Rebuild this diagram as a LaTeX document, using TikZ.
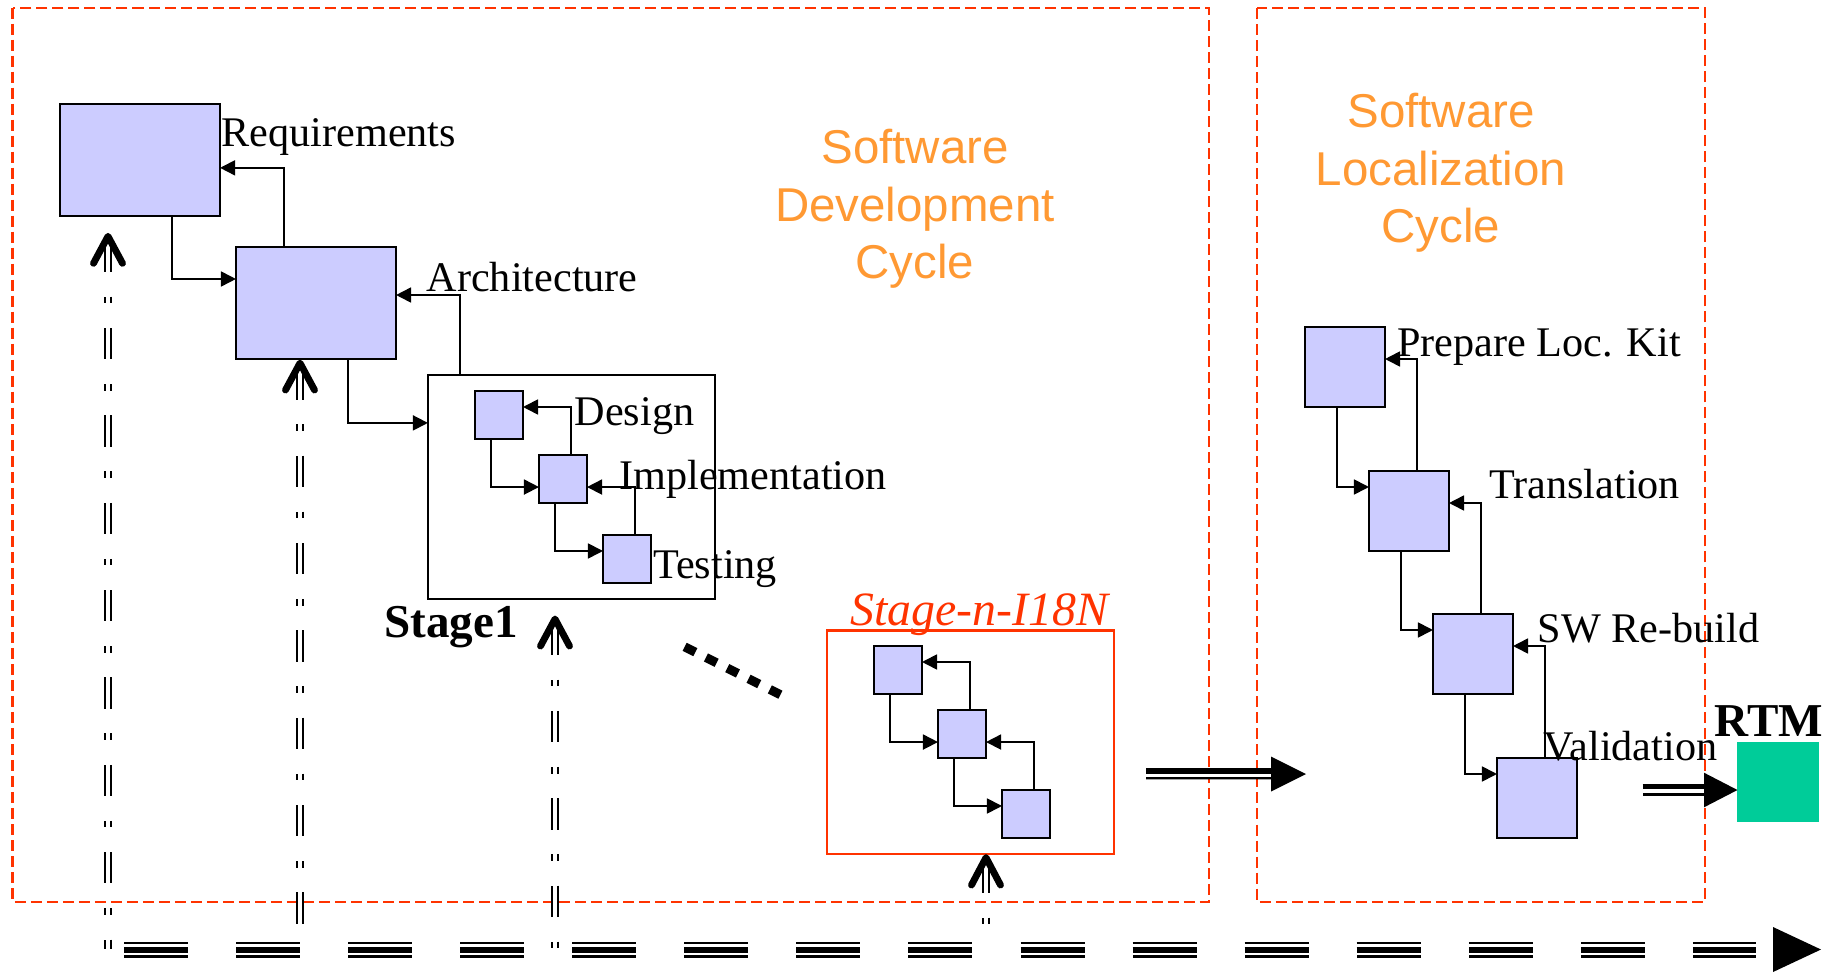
\documentclass[tikz,border=0pt]{standalone}
\usepackage{fontspec}
\setmainfont{Liberation Serif}
\newfontfamily\arialf{Liberation Sans}
\usetikzlibrary{calc,arrows.meta}
\definecolor{boxfill}{HTML}{CCCCFF}
\definecolor{dashred}{HTML}{FF3300}
\definecolor{orangetxt}{HTML}{FF9933}
\definecolor{rtmgreen}{HTML}{00CC99}
\begin{document}
\begin{tikzpicture}[x=0.01cm,y=-0.01cm,
  bigbox/.style={draw=black, fill=boxfill, line width=0.6pt, inner sep=0pt, outer sep=0pt, minimum width=1.6cm, minimum height=1.12cm},
  smallbox/.style={draw=black, fill=boxfill, line width=0.55pt, inner sep=0pt, outer sep=0pt, minimum width=0.48cm, minimum height=0.48cm},
  locbox/.style={draw=black, fill=boxfill, line width=0.6pt, inner sep=0pt, outer sep=0pt, minimum width=0.8cm, minimum height=0.8cm},
  conn/.style={draw=black, line width=0.5pt, -{Triangle[length=0.15cm,width=0.15cm]}},
  lbl/.style={anchor=base west, inner sep=0pt, font=\fontsize{12}{14}\selectfont},
  boldlbl/.style={anchor=base west, inner sep=0pt, font=\bfseries\fontsize{13.4}{16}\selectfont},
  cyclbl/.style={anchor=base, inner sep=0pt, text=orangetxt, font=\arialf\fontsize{13.5}{16}\selectfont},
  phasebox/.style={draw=dashred, line width=0.57pt, dash pattern=on 0.11cm off 0.05cm},
  ddash/.style={draw=black, double=white, line width=0.75pt, double distance=0.9pt, dash pattern=on 0.313cm off 0.247cm on 0.066cm off 0.247cm},
  chev/.style={draw=black, line width=1.95pt, line cap=round, line join=round},
  tline/.style={dash pattern=on 0.64cm off 0.48cm}
]
\useasboundingbox (0,0) rectangle (1839,972);

% phase frames
\draw[phasebox] (12.5,7.5) rectangle (1209,901.7);
\draw[phasebox] (1257,8) rectangle (1705,901.7);

% cycle titles
\node[cyclbl] (sdc1) at (915,163) {Software};
\node[cyclbl] (sdc2) at (915,221) {Development};
\node[cyclbl] (sdc3) at (915,278) {Cycle};
\node[cyclbl] (slc1) at (1441,127.5) {Software};
\node[cyclbl] (slc2) at (1441,185) {Localization};
\node[cyclbl] (slc3) at (1441,242.5) {Cycle};

% development boxes
\node[bigbox] (req) at (140,160) {};
\node[bigbox] (arch) at (316,303) {};
\node[draw=black, line width=0.5pt, inner sep=0pt, outer sep=0pt, minimum width=2.87cm, minimum height=2.24cm] (st1) at (571.5,487) {};
\node[smallbox] (d1) at (499,415) {};
\node[smallbox] (i1) at (563,479) {};
\node[smallbox] (t1) at (627,559) {};

\node[draw=dashred, line width=0.6pt, inner sep=0pt, outer sep=0pt, minimum width=2.87cm, minimum height=2.23cm] (stn) at (970.5,742) {};
\node[smallbox] (d2) at (898,670) {};
\node[smallbox] (i2) at (962,734) {};
\node[smallbox] (t2) at (1026,814) {};

% localization boxes
\node[locbox] (prep) at (1345,367) {};
\node[locbox] (trans) at (1409,511) {};
\node[locbox] (swr) at (1473,654) {};
\node[locbox] (val) at (1537,798) {};
\node[fill=rtmgreen, inner sep=0pt, outer sep=0pt, minimum width=0.81cm, minimum height=0.8cm] (rtm) at (1778,781.7) {};

% connectors
\draw[conn] ($(req.south west)!0.7!(req.south east)$) |- ($(arch.north west)!0.2857!(arch.south west)$);
\draw[conn] ($(arch.north west)!0.3!(arch.north east)$) |- ($(req.north east)!0.57!(req.south east)$);
\draw[conn] ($(arch.south west)!0.7!(arch.south east)$) |- ($(st1.north west)!0.214!(st1.south west)$);
\draw[conn] ($(st1.north west)!0.111!(st1.north east)$) |- ($(arch.north east)!0.4286!(arch.south east)$);

\draw[conn] ($(d1.south west)!0.333!(d1.south east)$) |- ($(i1.north west)!0.667!(i1.south west)$);
\draw[conn] ($(i1.north west)!0.667!(i1.north east)$) |- ($(d1.north east)!0.333!(d1.south east)$);
\draw[conn] ($(i1.south west)!0.333!(i1.south east)$) |- ($(t1.north west)!0.333!(t1.south west)$);
\draw[conn] ($(t1.north west)!0.667!(t1.north east)$) |- ($(i1.north east)!0.667!(i1.south east)$);

\draw[conn] ($(d2.south west)!0.333!(d2.south east)$) |- ($(i2.north west)!0.667!(i2.south west)$);
\draw[conn] ($(i2.north west)!0.667!(i2.north east)$) |- ($(d2.north east)!0.333!(d2.south east)$);
\draw[conn] ($(i2.south west)!0.333!(i2.south east)$) |- ($(t2.north west)!0.333!(t2.south west)$);
\draw[conn] ($(t2.north west)!0.667!(t2.north east)$) |- ($(i2.north east)!0.667!(i2.south east)$);

\draw[conn] ($(prep.south west)!0.4!(prep.south east)$) |- ($(trans.north west)!0.2!(trans.south west)$);
\draw[conn] ($(trans.north west)!0.6!(trans.north east)$) |- ($(prep.north east)!0.4!(prep.south east)$);
\draw[conn] ($(trans.south west)!0.4!(trans.south east)$) |- ($(swr.north west)!0.2!(swr.south west)$);
\draw[conn] ($(swr.north west)!0.6!(swr.north east)$) |- ($(trans.north east)!0.4!(trans.south east)$);
\draw[conn] ($(swr.south west)!0.4!(swr.south east)$) |- ($(val.north west)!0.2!(val.south west)$);
\draw[conn] ($(val.north west)!0.6!(val.north east)$) |- ($(swr.north east)!0.4!(swr.south east)$);

% labels
\node[lbl] (treq) at (221,146.7) {Requirements};
\node[lbl] (tarch) at (426,291.7) {Architecture};
\node[lbl] (tdes) at (574,425) {Design};
\node[lbl] (timp) at (618.8,489.6) {Implementation};
\node[lbl] (ttest) at (652.6,578) {Testing};
\node[boldlbl] (tst1) at (383.5,637.8) {Stage1};
\node[anchor=base west, inner sep=0pt, text=dashred, font=\itshape\fontsize{13.6}{16}\selectfont] (tstn) at (850,625) {Stage-n-I18N};
\node[lbl] (tprep) at (1396.5,356) {Prepare Loc. Kit};
\node[lbl] (ttrans) at (1488.5,498.3) {Translation};
\node[lbl] (tswr) at (1537,642.5) {SW Re-build};
\node[lbl] (tval) at (1543,760) {Validation};
\node[boldlbl] (trtm) at (1714,736.5) {RTM};

% ellipsis between stages
\draw[line width=2.56pt, dash pattern=on 0.12cm off 0.118cm] (684.6,646.8) -- (780.4,694.7);

% thick hand-over arrows
\coordinate (hoa) at (1146,774);
\coordinate (hob) at (1306,774);
\draw[line width=3.2pt] (hoa) ++(0,-0.15) -- (1272,773.85);
\draw[white, line width=0.68pt] (1145,775.5) -- (1271,775.5);
\fill (1271,756.5) -- (hob) -- (1271,791.5) -- cycle;

\coordinate (rta) at (1642.5,790);
\draw[line width=3.41pt] (rta) -- (1705,790);
\draw[white, line width=0.97pt] (1641.5,791) -- (1704,791);
\fill (1704,772.7) -- (rtm.west |- rta) -- (1704,807.3) -- cycle;

% timeline
\coordinate (tl0) at (124,949.7);
\coordinate (tl1) at (1756,949.7);
\draw[tline, line width=4.55pt] (tl0) -- (tl1);
\draw[tline, white, line width=3.04pt] (tl0) -- (tl1);
\draw[tline, line width=1.59pt] (tl0) -- (tl1);
\coordinate (tlend) at (1821,949.5);
\fill (1773,927) -- (tlend) -- (1773,972) -- cycle;

% milestone arrows from the timeline
\coordinate (m1) at (108,233.3);
\coordinate (m3) at (555,616);
\draw[ddash] (108,240.7) -- (108,949);
\draw[chev] (93.5,263.3) -- ($(m1)+(0,3)$) -- (122.5,263.3);

\draw[ddash] (300,368.3) -- (300,926);
\draw[chev] (285.5,390) -- ($(arch.south -| 300,0)+(0,4)$) -- (314.5,390);

\draw[ddash] (555,623.5) -- (555,949);
\draw[chev] (540.5,646) -- ($(m3)+(0,3)$) -- (569.5,646);

\draw[ddash] (986,861.7) -- (986,926);
\draw[chev] (971.5,885) -- ($(stn.south -| 986,0)+(0,4)$) -- (1000.5,885);

\end{tikzpicture}
\end{document}
